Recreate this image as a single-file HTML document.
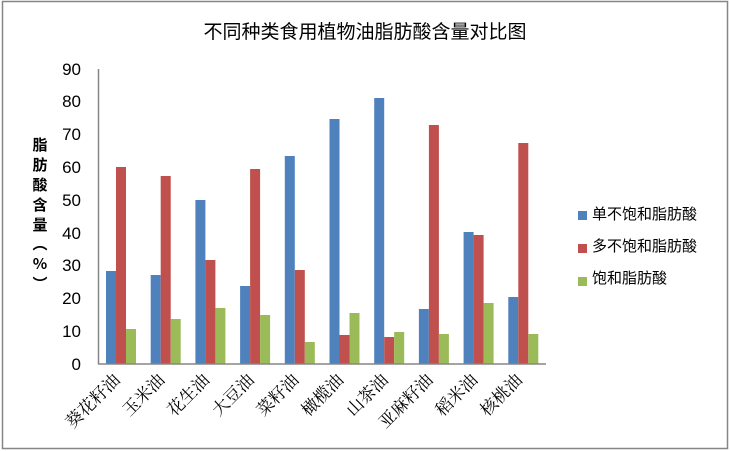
<!DOCTYPE html>
<html><head><meta charset="utf-8"><style>body{margin:0;background:#fff}svg{display:block}</style></head><body>
<svg width="730" height="451" xmlns="http://www.w3.org/2000/svg">
<rect x="2.5" y="1.5" width="725" height="447" fill="#fff" stroke="#868686" stroke-width="1.5"/>
<text x="365" y="38" font-family="Liberation Sans, Noto Sans CJK SC, sans-serif" font-size="19" text-anchor="middle">不同种类食用植物油脂肪酸含量对比图</text>
<g font-family="Liberation Sans, sans-serif" font-size="17" text-anchor="end">
<text x="81" y="370">0</text><text x="81" y="337">10</text><text x="81" y="304">20</text><text x="81" y="271">30</text><text x="81" y="239">40</text><text x="81" y="206">50</text><text x="81" y="173">60</text><text x="81" y="140">70</text><text x="81" y="107">80</text><text x="81" y="75">90</text>
</g>
<g font-family="Noto Sans CJK SC, sans-serif" font-size="15" font-weight="bold" text-anchor="middle">
<text x="40" y="150">脂</text><text x="40" y="170">肪</text><text x="40" y="190">酸</text><text x="40" y="210">含</text><text x="40" y="230">量</text><text x="40" y="249">︵</text><text x="40" y="269">%</text><text x="40" y="289">︶</text>
</g>
<g>
<rect x="106" y="271" width="10" height="93" fill="#4f81bd"/><rect x="116" y="167" width="10" height="197" fill="#c0504d"/><rect x="126" y="329" width="10" height="35" fill="#9bbb59"/>
<rect x="150.7" y="275" width="10" height="89" fill="#4f81bd"/><rect x="160.7" y="176" width="10" height="188" fill="#c0504d"/><rect x="170.7" y="319" width="10" height="45" fill="#9bbb59"/>
<rect x="195.4" y="200" width="10" height="164" fill="#4f81bd"/><rect x="205.4" y="260" width="10" height="104" fill="#c0504d"/><rect x="215.4" y="308" width="10" height="56" fill="#9bbb59"/>
<rect x="240.1" y="286" width="10" height="78" fill="#4f81bd"/><rect x="250.1" y="169" width="10" height="195" fill="#c0504d"/><rect x="260.1" y="315" width="10" height="49" fill="#9bbb59"/>
<rect x="284.8" y="156" width="10" height="208" fill="#4f81bd"/><rect x="294.8" y="270" width="10" height="94" fill="#c0504d"/><rect x="304.8" y="342" width="10" height="22" fill="#9bbb59"/>
<rect x="329.5" y="119" width="10" height="245" fill="#4f81bd"/><rect x="339.5" y="335" width="10" height="29" fill="#c0504d"/><rect x="349.5" y="313" width="10" height="51" fill="#9bbb59"/>
<rect x="374.2" y="98" width="10" height="266" fill="#4f81bd"/><rect x="384.2" y="337" width="10" height="27" fill="#c0504d"/><rect x="394.2" y="332" width="10" height="32" fill="#9bbb59"/>
<rect x="418.9" y="309" width="10" height="55" fill="#4f81bd"/><rect x="428.9" y="125" width="10" height="239" fill="#c0504d"/><rect x="438.9" y="334" width="10" height="30" fill="#9bbb59"/>
<rect x="463.6" y="232" width="10" height="132" fill="#4f81bd"/><rect x="473.6" y="235" width="10" height="129" fill="#c0504d"/><rect x="483.6" y="303" width="10" height="61" fill="#9bbb59"/>
<rect x="508.3" y="297" width="10" height="67" fill="#4f81bd"/><rect x="518.3" y="143" width="10" height="221" fill="#c0504d"/><rect x="528.3" y="334" width="10" height="30" fill="#9bbb59"/>
</g>
<line x1="98.5" y1="69" x2="98.5" y2="364" stroke="#868686" stroke-width="1.5"/>
<line x1="98" y1="364" x2="546" y2="364" stroke="#868686" stroke-width="1.5"/>
<g font-family="Noto Serif CJK SC, serif" font-size="17" text-anchor="end">
<text transform="translate(121,381) rotate(-45)">葵花籽油</text>
<text transform="translate(165.7,381) rotate(-45)">玉米油</text>
<text transform="translate(210.4,381) rotate(-45)">花生油</text>
<text transform="translate(255.1,381) rotate(-45)">大豆油</text>
<text transform="translate(299.8,381) rotate(-45)">菜籽油</text>
<text transform="translate(344.5,381) rotate(-45)">橄榄油</text>
<text transform="translate(389.2,381) rotate(-45)">山茶油</text>
<text transform="translate(433.9,381) rotate(-45)">亚麻籽油</text>
<text transform="translate(478.6,381) rotate(-45)">稻米油</text>
<text transform="translate(523.3,381) rotate(-45)">核桃油</text>
</g>
<rect x="578" y="211" width="9" height="9" fill="#4f81bd"/>
<rect x="578" y="244" width="9" height="9" fill="#c0504d"/>
<rect x="578" y="277" width="9" height="9" fill="#9bbb59"/>
<g font-family="Noto Sans CJK SC, sans-serif" font-size="15">
<text x="592" y="219">单不饱和脂肪酸</text><text x="592" y="251">多不饱和脂肪酸</text><text x="592" y="283">饱和脂肪酸</text>
</g>
</svg>
</body></html>
